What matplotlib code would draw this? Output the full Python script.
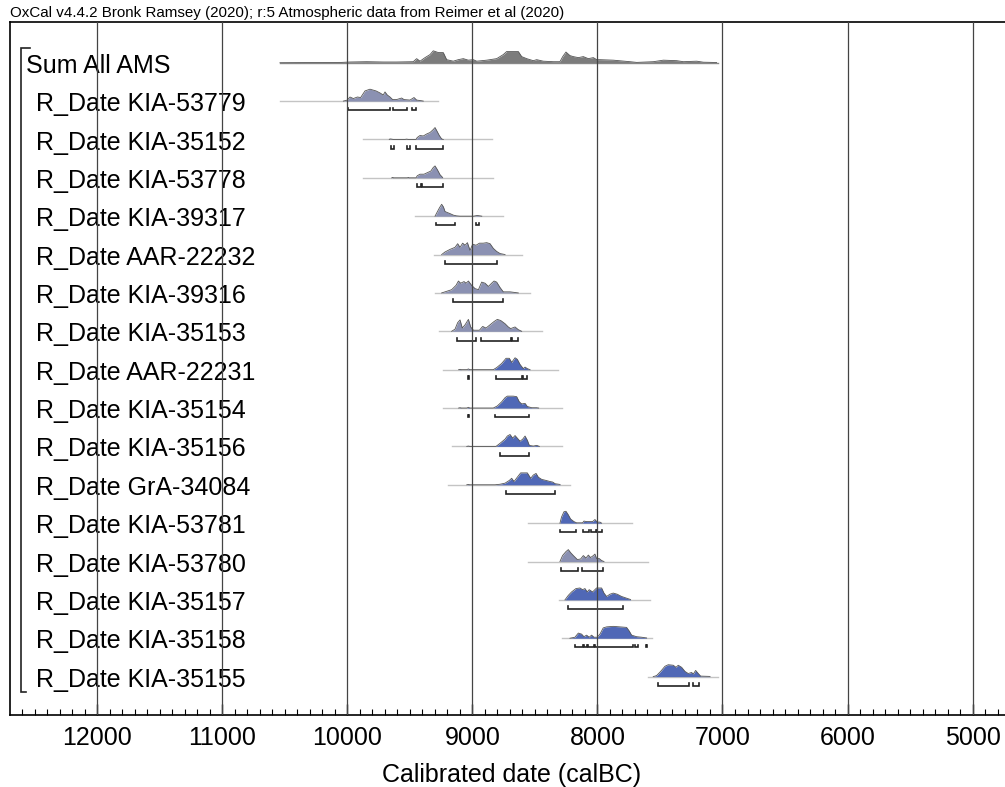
import matplotlib
matplotlib.use('Agg')
import numpy as np
import matplotlib.pyplot as plt

plt.rcParams['font.family'] = ['Liberation Sans', 'DejaVu Sans']

# --- probability densities (calBC, relative probability) ---
sum_yr = [10539, 10046, 9979, 9846, 9713, 9606, 9473, 9446, 9419, 9379, 9339, 9313, 9273, 9233,
          9206, 9153, 9113, 9073, 9033, 8993, 8966, 8886, 8806, 8753, 8726, 8633, 8606, 8566,
          8513, 8486, 8433, 8353, 8300, 8278, 8252, 8220, 8193, 8153, 8113, 8073, 8033, 8006,
          7980, 7873, 7740, 7686, 7553, 7473, 7366, 7313, 7206, 7153, 7047]
sum_p = [0, 0.3, 0.7, 1.0, 0.7, 0.7, 1.0, 4.0, 1.5, 5.0, 8.0, 11.7, 10.0, 10.0,
         3.0, 1.5, 3.0, 4.0, 2.5, 3.0, 1.5, 2.5, 4.0, 8.0, 11.0, 11.0, 6.0, 4.0,
         2.0, 3.0, 1.5, 1.0, 1.0, 6.0, 10.5, 7.0, 6.0, 5.0, 6.0, 4.0, 5.0, 3.0,
         3.0, 2.5, 1.0, 0.3, 1.0, 2.5, 2.0, 1.0, 1.5, 0.5, 0.2]

k53779_yr = [10032, 10000, 9979, 9952, 9920, 9894, 9859, 9819, 9771, 9739, 9713, 9699, 9681,
             9659, 9638, 9606, 9566, 9547, 9499, 9467, 9446, 9406, 9393]
k53779_p = [0, 1.0, 4.0, 2.5, 4.0, 3.5, 10.0, 11.7, 10.0, 8.0, 6.0, 9.0, 6.0,
            4.0, 1.5, 1.5, 3.0, 1.5, 1.0, 3.5, 1.0, 0.3, 0]

k35152_yr = [9665, 9659, 9646, 9633, 9540, 9526, 9512, 9451, 9441, 9419, 9393, 9366, 9339,
             9313, 9299, 9286, 9265, 9246, 9233]
k35152_p = [0, 0.5, 0.3, 0, 0, 0.3, 0, 0, 2.0, 4.0, 3.5, 5.5, 7.0,
            10.0, 12.0, 9.0, 4.0, 0.5, 0]

k53778_yr = [9645, 9638, 9630, 9520, 9513, 9505, 9451, 9441, 9419, 9387, 9360, 9333, 9313,
             9299, 9281, 9259, 9238]
k53778_p = [0, 0.4, 0, 0, 0.4, 0, 0, 2.0, 3.5, 3.5, 5.0, 6.5, 10.0,
            11.5, 8.0, 3.0, 0.3]

k39317_yr = [9299, 9286, 9264, 9246, 9232, 9219, 9200, 9179, 9152, 9126, 9100,
             8990, 8979, 8961, 8939, 8925]
k39317_p = [0, 3.0, 8.0, 11.5, 9.0, 4.5, 3.5, 2.5, 1.0, 0.3, 0,
            0, 0.3, 0.7, 0.3, 0]

a22232_yr = [9246, 9219, 9179, 9139, 9118, 9099, 9078, 9059, 9040, 9019, 8998, 8971, 8944,
             8913, 8886, 8859, 8833, 8806, 8779, 8739]
a22232_p = [0, 2.5, 5.0, 7.0, 10.5, 7.0, 11.0, 9.0, 11.5, 4.0, 10.0, 9.0, 11.0,
            11.0, 11.5, 10.5, 6.0, 3.0, 1.0, 0]

k39316_yr = [9246, 9206, 9166, 9131, 9112, 9094, 9067, 9051, 9032, 9006, 8979, 8952, 8926,
             8899, 8872, 8846, 8827, 8806, 8779, 8753, 8699, 8633]
k39316_p = [0, 1.5, 3.0, 7.0, 11.0, 9.0, 10.5, 9.0, 11.0, 7.0, 4.0, 3.0, 10.0,
            9.0, 6.0, 9.0, 11.0, 10.0, 5.0, 1.0, 1.0, 0]

k35153_yr = [9166, 9139, 9118, 9099, 9081, 9059, 9032, 9014, 8992, 8944, 8918, 8891, 8859,
             8827, 8801, 8774, 8739, 8713, 8694, 8659, 8633, 8606]
k35153_p = [0, 2.0, 8.0, 10.5, 3.0, 6.0, 11.0, 4.0, 1.0, 1.0, 4.5, 3.0, 6.0,
            9.0, 11.0, 10.0, 7.0, 4.0, 2.5, 4.0, 1.5, 0]

a22231_yr = [9110, 9099, 9088, 9045, 9032, 9020, 8833, 8806, 8766, 8731, 8705, 8686, 8659,
             8641, 8619, 8593, 8579, 8561, 8539]
a22231_p = [0, 0.3, 0, 0, 0.7, 0, 0, 2.0, 6.0, 11.0, 11.0, 7.0, 11.5,
            10.0, 5.0, 1.0, 2.5, 1.0, 0]

k35154_yr = [9110, 9099, 9088, 9045, 9032, 9020, 8833, 8801, 8766, 8739, 8721, 8673, 8646,
             8625, 8606, 8579, 8561, 8526, 8486, 8470]
k35154_p = [0, 0.3, 0, 0, 0.7, 0, 0, 2.0, 6.0, 10.0, 11.5, 11.5, 11.0,
            6.0, 4.0, 4.5, 1.5, 0.3, 0.3, 0]

k35156_yr = [9045, 9032, 9020, 8811, 8779, 8739, 8721, 8699, 8678, 8659, 8641, 8619, 8598,
             8579, 8561, 8545, 8513, 8486, 8465]
k35156_p = [0, 0.3, 0, 0, 3.0, 7.0, 10.0, 11.5, 8.0, 10.5, 8.0, 5.0, 7.0,
            10.0, 6.0, 1.0, 0.3, 1.0, 0]

g34084_yr = [9045, 9032, 9020, 8819, 8779, 8739, 8705, 8686, 8667, 8641, 8614, 8587, 8561,
             8534, 8513, 8491, 8473, 8446, 8411, 8379, 8358, 8339, 8299]
g34084_p = [0, 0.3, 0, 0, 0.5, 1.5, 4.0, 6.0, 3.0, 7.0, 11.0, 11.0, 11.0,
            6.0, 9.0, 10.5, 7.0, 5.0, 4.0, 3.0, 2.5, 1.0, 0.3]

k53781_yr = [8300, 8287, 8268, 8252, 8233, 8215, 8188, 8167, 8119, 8108, 8087, 8060, 8039,
             8020, 8002, 7980, 7967]
k53781_p = [0, 6.0, 11.0, 11.5, 8.0, 4.0, 1.5, 0.3, 0.3, 2.0, 1.5, 1.5, 1.5,
            3.5, 1.0, 1.0, 0]

k53780_yr = [8300, 8279, 8252, 8233, 8215, 8193, 8161, 8135, 8113, 8092, 8073, 8055, 8033,
             8020, 8007, 7986, 7967, 7948]
k53780_p = [0, 6.0, 10.0, 12.0, 9.0, 6.0, 2.0, 2.5, 6.0, 3.5, 6.5, 4.0, 6.0,
            7.5, 3.0, 3.0, 1.0, 0]

k35157_yr = [8260, 8233, 8207, 8172, 8140, 8119, 8100, 8082, 8066, 8039, 8007, 7967, 7948,
             7927, 7900, 7874, 7842, 7807, 7767, 7735]
k35157_p = [0, 4.0, 7.0, 10.0, 10.5, 9.0, 10.0, 7.0, 9.0, 7.0, 10.5, 10.5, 6.0,
            3.0, 5.0, 6.0, 5.0, 3.0, 1.5, 0.3]

k35158_yr = [8220, 8180, 8153, 8127, 8108, 8087, 8066, 8047, 8028, 8002, 7980, 7954, 7927,
             7874, 7820, 7767, 7746, 7727, 7687, 7647, 7607]
k35158_p = [0, 1.0, 5.0, 4.0, 1.5, 3.0, 1.0, 3.0, 1.0, 1.0, 4.0, 10.0, 11.0,
            11.5, 11.0, 10.5, 7.0, 3.0, 1.5, 1.0, 0.3]

k35155_yr = [7554, 7527, 7495, 7460, 7434, 7394, 7372, 7354, 7327, 7300, 7274, 7247, 7233,
             7215, 7194, 7175, 7100]
k35155_p = [0, 1.0, 5.0, 10.0, 11.5, 11.0, 9.0, 11.0, 9.0, 5.0, 3.0, 4.0, 2.5,
            6.0, 3.0, 0.5, 0.2]

# --- row labels, plotted span and 95.4% ranges ---
labels = ['Sum All AMS', 'R_Date KIA-53779', 'R_Date KIA-35152', 'R_Date KIA-53778',
          'R_Date KIA-39317', 'R_Date AAR-22232', 'R_Date KIA-39316', 'R_Date KIA-35153',
          'R_Date AAR-22231', 'R_Date KIA-35154', 'R_Date KIA-35156', 'R_Date GrA-34084',
          'R_Date KIA-53781', 'R_Date KIA-53780', 'R_Date KIA-35157', 'R_Date KIA-35158',
          'R_Date KIA-35155']
spans = [(10539, 7036), (10539, 9273), (9878, 8846), (9873, 8833), (9459, 8758),
         (9304, 8606), (9299, 8539), (9267, 8446), (9232, 8313), (9238, 8281),
         (9160, 8281), (9198, 8219), (8553, 7727), (8553, 7599), (8305, 7580),
         (8287, 7567), (7599, 7034)]
ranges = [
    [],
    [(9998, 9659), (9633, 9526), (9486, 9451)],
    [(9654, 9627), (9521, 9499), (9451, 9238)],
    [(9446, 9410), (9405, 9238)],
    [(9294, 9139), (8971, 8950)],
    [(9216, 8806)],
    [(9152, 8753)],
    [(9126, 8971), (8931, 8694), (8681, 8633)],
    [(9036, 9028), (8814, 8606), (8593, 8561)],
    [(9036, 9028), (8819, 8547)],
    [(8779, 8545)],
    [(8731, 8339)],
    [(8300, 8172), (8119, 8066), (8055, 8010), (8005, 7967)],
    [(8292, 8159), (8127, 7959)],
    [(8233, 7794)],
    [(8180, 8119), (8108, 8082), (8073, 8026), (8020, 7714), (7700, 7674), (7615, 7607)],
    [(7519, 7266), (7239, 7186)],
]
kinds = ['sum', 'r', 'r', 'r', 'r', 'r', 'r', 'r', 'm', 'm', 'm', 'm', 'm', 'r', 'm', 'm', 'm']
dens = [(sum_yr, sum_p), (k53779_yr, k53779_p), (k35152_yr, k35152_p), (k53778_yr, k53778_p),
        (k39317_yr, k39317_p), (a22232_yr, a22232_p), (k39316_yr, k39316_p),
        (k35153_yr, k35153_p), (a22231_yr, a22231_p), (k35154_yr, k35154_p),
        (k35156_yr, k35156_p), (g34084_yr, g34084_p), (k53781_yr, k53781_p),
        (k53780_yr, k53780_p), (k35157_yr, k35157_p), (k35158_yr, k35158_p),
        (k35155_yr, k35155_p)]

fills = {'sum': '#7c7c7c', 'r': '#8b91b2', 'm': '#5068b6'}
peak = 0.31

fig = plt.figure(figsize=(10.05, 7.87), dpi=100)
ax = fig.add_axes([0.00995, 0.0915, 0.995, 0.8805])

for i, (name, (yr, p), span, rng, kind) in enumerate(zip(labels, dens, spans, ranges, kinds)):
    yr = np.array(yr, dtype=float)
    h = np.array(p, dtype=float) / max(p) * peak
    base_col = '#8a8a8a' if kind == 'sum' else '#c4c4c4'
    ax.plot(span, [i, i], color=base_col, lw=1.0, zorder=1)
    ax.fill_between(yr, i, i - h, color=fills[kind], lw=0, zorder=2)
    ax.plot(yr, i - h, color='#555555', lw=0.6, zorder=3)
    for a, b in rng:
        yb = i + 0.24
        ax.plot([a, a, b, b], [yb - 0.07, yb, yb, yb - 0.07], color='#222222', lw=1.2,
                solid_joinstyle='miter', zorder=3)
    xt = 12570 if kind == 'sum' else 12490
    ax.text(xt, i + 0.08, name, fontsize=18, ha='left', va='center', zorder=4)

# bracket grouping the dates under the sum
ax.plot([12538, 12610, 12610, 12570], [-0.38, -0.38, 16.4, 16.4], color='#222222', lw=1.2,
        solid_joinstyle='miter', zorder=4)

for x in range(5000, 13000, 1000):
    ax.axvline(x, color='#444444', lw=0.9, zorder=5)

ax.set_xlim(12698, 4701)
ax.set_ylim(17.0, -1.06)
ax.set_yticks([])
ax.set_xticks(range(5000, 13000, 1000))
ax.set_xticks(range(4800, 12700, 100), minor=True)
ax.tick_params(axis='x', which='major', direction='in', length=8, width=1.0,
               labelsize=18, pad=8)
ax.tick_params(axis='x', which='minor', direction='in', length=4, width=0.8)
ax.spines['right'].set_visible(False)
for s in ['left', 'bottom', 'top']:
    ax.spines[s].set_linewidth(1.2)
ax.set_xlabel('Calibrated date (calBC)', fontsize=18)
ax.xaxis.set_label_coords(0.502, -0.070)

fig.text(10 / 1005, 1 - 13 / 787, 'OxCal v4.4.2 Bronk Ramsey (2020); r:5 Atmospheric data from Reimer et al (2020)',
         fontsize=10.9, ha='left', va='center')

fig.savefig('out.png', dpi=100)
